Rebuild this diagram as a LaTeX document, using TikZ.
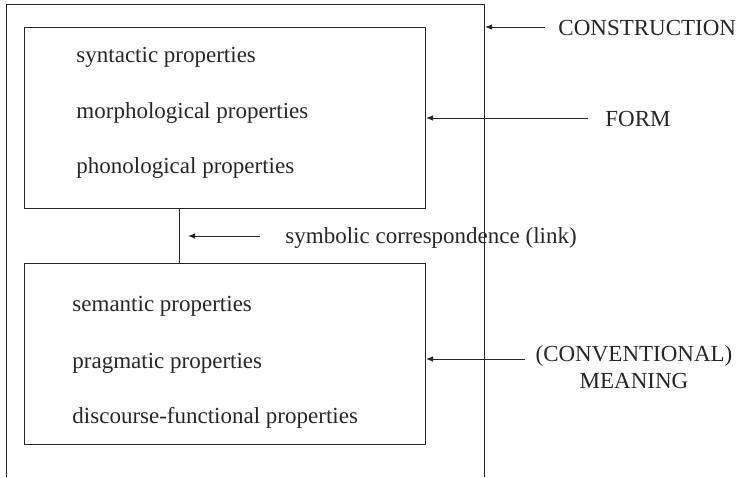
\documentclass[tikz,border=0pt]{standalone}
\usepackage{fontspec}
\setmainfont{Liberation Serif}
\usetikzlibrary{arrows.meta}
\begin{document}
\begin{tikzpicture}[x=1pt,y=-1pt,
  line width=0.9pt,
  ln/.style={draw=black!85, line width=0.9pt},
  box/.style={draw=black!85, line width=0.9pt, minimum width=401pt, minimum height=181pt, inner sep=0pt},
  txt/.style={font=\fontsize{23}{27}\selectfont, inner sep=0pt, anchor=west, text=black!85},
  lbl/.style={font=\fontsize{23}{27}\selectfont, inner sep=0pt, text=black!85},
  arr/.style={-{Latex[length=7pt,width=5.5pt]}, line width=0.9pt, draw=black!85}]
\useasboundingbox (0,0) rectangle (739,477);
% outer construction frame (open at the bottom)
\coordinate (oBL) at (6,477);
\coordinate (oTL) at (6,4);
\coordinate (oTR) at (484,4);
\coordinate (oBR) at (484,477);
\draw[ln] (oBL) -- (oTL) -- (oTR) -- (oBR);
% boxes
\node[box] (form) at (224.5,117.5) {};
\node[box] (meaning) at (224.5,353.5) {};
\draw[ln] (form.south -| 179,0) coordinate (lt) -- (meaning.north -| 179,0) coordinate (lb);
% inner texts
\node[txt] (t1) at (76,57) {syntactic properties};
\node[txt] (t2) at (76,113) {morphological properties};
\node[txt] (t3) at (76,168) {phonological properties};
\node[txt] (t4) at (72,306) {semantic properties};
\node[txt] (t5) at (72,363) {pragmatic properties};
\node[txt] (t6) at (72,418) {discourse-functional properties};
% labels
\node[lbl, anchor=west] (con) at (558,28) {CONSTRUCTION};
\node[lbl, anchor=west] (fl) at (605,119) {FORM};
\node[lbl, anchor=west] (link) at (285,238) {symbolic correspondence (link)};
\node[lbl, align=center] (ml) at (634,367) {(CONVENTIONAL)\\MEANING};
% arrow targets
\coordinate (cA) at (485,27);
\coordinate (fA) at (426,118);
\coordinate (lA) at (188,236);
\coordinate (mA) at (426,359);
\coordinate (mS) at (525,359);
\draw[arr] ([xshift=-13pt]con.west |- cA) -- (cA);
\draw[arr] ([xshift=-17pt]fl.west |- fA) -- (fA);
\draw[arr] ([xshift=-25pt]link.west |- lA) -- (lA);
\draw[arr] (mS) -- (mA);
\end{tikzpicture}
\end{document}
